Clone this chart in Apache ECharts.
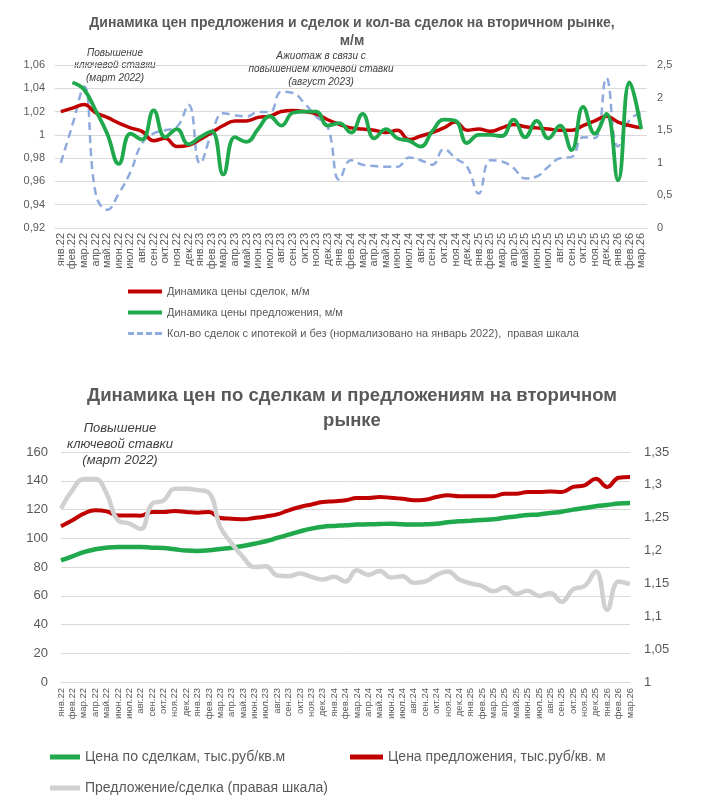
<!DOCTYPE html>
<html>
<head>
<meta charset="utf-8">
<script src="https://cdn.jsdelivr.net/npm/echarts@6/dist/echarts.min.js"></script>
<style>
html,body{margin:0;padding:0;background:#fff;}
#chart{width:704px;height:800px;}
</style>
</head>
<body>
<div id="chart"></div>
<script>
// ---- categories (months) ----
const months = [
  'янв.22','фев.22','мар.22','апр.22','май.22','июн.22','июл.22','авг.22','сен.22','окт.22','ноя.22','дек.22',
  'янв.23','фев.23','мар.23','апр.23','май.23','июн.23','июл.23','авг.23','сен.23','окт.23','ноя.23','дек.23',
  'янв.24','фев.24','мар.24','апр.24','май.24','июн.24','июл.24','авг.24','сен.24','окт.24','ноя.24','дек.24',
  'янв.25','фев.25','мар.25','апр.25','май.25','июн.25','июл.25','авг.25','сен.25','окт.25','ноя.25','дек.25',
  'янв.26','фев.26','мар.26'
];

// ---- top chart: m/m dynamics ----
const dealPriceMoM = [
  1.020,1.023,1.026,1.019,1.015,1.010,1.006,1.003,0.995,0.997,0.990,0.991,
  0.996,1.002,1.008,1.012,1.012,1.015,1.016,1.020,1.021,1.020,1.018,1.013,
  1.009,1.006,1.005,1.004,1.002,1.004,0.996,0.999,1.002,1.006,1.011,1.004,
  1.005,1.003,1.006,1.009,1.007,1.006,1.005,1.004,1.004,1.008,1.012,1.016,
  1.011,1.008,1.006
];
const offerPriceMoM = [
  null,1.045,1.039,1.021,1.001,0.975,1.001,0.996,1.021,0.998,1.005,0.992,
  0.998,1.003,0.966,0.998,0.994,1.005,1.016,1.008,1.019,1.020,1.020,1.008,
  1.010,1.002,1.018,0.997,1.005,0.997,0.995,0.990,1.003,1.013,1.012,0.993,
  1.000,1.000,0.999,1.013,0.998,1.012,0.997,1.008,0.987,1.024,1.001,1.018,
  0.961,1.045,1.005
];
const dealsCountNorm = [
  1.00,1.58,2.17,0.53,0.28,0.53,0.86,1.30,1.45,1.50,1.55,1.89,
  0.99,1.45,1.76,1.73,1.71,1.78,1.78,2.09,2.07,1.91,1.71,1.55,
  0.74,1.04,0.97,0.95,0.94,0.94,1.08,1.04,0.97,1.21,1.07,0.94,
  0.53,1.04,1.02,0.92,0.76,0.79,0.94,1.07,1.09,1.39,1.38,2.30,
  1.25,1.66,1.76
];
const topLeftTicks = {min:0.92, max:1.06, interval:0.02};
const topRightTicks = {min:0, max:2.5, interval:0.5};

// ---- bottom chart: price levels ----
const dealPrice = [
  84.6,87.4,90.4,92.3,93.4,93.9,93.9,93.9,93.4,93.2,92.3,91.4,
  91.1,91.6,92.5,93.4,94.6,96.2,97.9,100.2,102.5,104.8,106.7,108.0,
  108.6,109.0,109.5,109.7,109.9,110.1,109.7,109.5,109.7,110.1,111.1,111.8,
  112.2,112.7,113.2,114.3,115.2,116.2,116.6,117.6,118.5,119.9,121.0,122.2,
  123.1,124.1,124.5
];
const offerPrice = [
  108.3,112.5,117.1,119.4,118.7,115.9,115.9,115.7,118.3,118.3,119.0,118.3,
  117.8,118.3,114.1,113.6,113.2,114.1,115.2,116.6,119.4,121.7,123.5,125.2,
  125.7,126.4,128.0,128.0,128.7,128.2,127.5,126.4,126.8,128.7,129.9,129.2,
  129.2,129.2,129.2,131.0,131.0,132.2,132.2,132.6,132.2,135.7,136.8,141.4,
  135.7,142.1,142.6
];
const offerDealRatio = [
  1.264,1.292,1.309,1.309,1.287,1.246,1.241,1.233,1.271,1.276,1.294,1.294,
  1.292,1.288,1.236,1.211,1.190,1.175,1.176,1.162,1.161,1.165,1.160,1.156,
  1.160,1.153,1.170,1.163,1.169,1.159,1.161,1.151,1.153,1.163,1.168,1.156,
  1.150,1.146,1.138,1.144,1.134,1.139,1.131,1.135,1.122,1.141,1.146,1.168,
  1.110,1.153,1.149
];
const botLeftTicks = {min:0, max:160, interval:20};
const botRightTicks = {min:1, max:1.35, interval:0.05};

// ---- names ----
const nTop = ['Динамика цены сделок, м/м','Динамика цены предложения, м/м','Кол-во сделок с ипотекой и без (нормализовано на январь 2022),  правая шкала'];
const nBot = ['Цена по сделкам, тыс.руб/кв.м','Цена предложения, тыс.руб/кв. м','Предложение/сделка (правая шкала)'];

const RED = '#C00000', GREEN = '#1FA84C', BLUE = '#8FAADC', GRAY = '#D0D0D0';
const FONT = 'Liberation Sans';
const TXT = '#595959';
const fmt = v => String(Math.round(v*100)/100).replace('.', ',');
const DASH_ICON = 'path://M0,0h6v3h-6z M9,0h6v3h-6z M18,0h6v3h-6z M27,0h7v3h-7z';

const chart = echarts.init(document.getElementById('chart'), null, {renderer:'canvas'});

function xAx(grid, boundaryGap, fs, margin){
  return {
    type:'category', gridIndex:grid, data:months, boundaryGap:boundaryGap,
    axisLine:{show:true, lineStyle:{color:'#D9D9D9', width:1}},
    axisTick:{show:false},
    axisLabel:{rotate:90, interval:0, fontSize:fs, color:TXT, margin:margin, fontFamily:FONT}
  };
}
function yAx(grid, ticks, pos, fs, margin, split){
  return Object.assign({
    type:'value', gridIndex:grid, position:pos,
    axisLine:{show:false}, axisTick:{show:false},
    axisLabel:{fontSize:fs, color:TXT, margin:margin, fontFamily:FONT, formatter:fmt},
    splitLine:{show:split, lineStyle:{color:'#D9D9D9', width:1}}
  }, ticks);
}

const option = {
  animation:false,
  backgroundColor:'#fff',
  textStyle:{fontFamily:FONT},
  title:[
    {text:'Динамика цен предложения и сделок и кол-ва сделок на вторичном рынке,\nм/м',
     left:'center', top:9,
     textStyle:{fontSize:14, fontWeight:'bold', color:TXT, lineHeight:18, fontFamily:FONT}},
    {text:'Динамика цен по сделкам и предложениям на вторичном\nрынке',
     left:'center', top:378,
     textStyle:{fontSize:18.5, fontWeight:'bold', color:TXT, lineHeight:25, fontFamily:FONT}}
  ],
  grid:[
    {left:55, right:57, top:65, height:163},
    {left:61, right:74, top:452, height:230}
  ],
  xAxis:[ xAx(0, true, 11, 5), xAx(1, false, 9.5, 6) ],
  yAxis:[
    yAx(0, topLeftTicks, 'left', 11, 10, true),
    yAx(0, topRightTicks, 'right', 11, 10, false),
    yAx(1, botLeftTicks, 'left', 13, 13, true),
    yAx(1, botRightTicks, 'right', 13, 14, false)
  ],
  legend:[
    {orient:'vertical', left:128, top:286, padding:0, itemWidth:34, itemHeight:4, itemGap:10,
     data:[{name:nTop[0], icon:'rect'}, {name:nTop[1], icon:'rect'}, {name:nTop[2], icon:DASH_ICON}],
     textStyle:{fontSize:11, color:TXT, fontFamily:FONT}},
    {left:50, top:750, padding:0, itemWidth:30, itemHeight:5, data:[{name:nBot[0], icon:'rect'}],
     textStyle:{fontSize:14, color:TXT, fontFamily:FONT}},
    {left:350, top:750, padding:0, itemWidth:33, itemHeight:5, data:[{name:nBot[1], icon:'rect'}],
     textStyle:{fontSize:14, color:TXT, fontFamily:FONT}},
    {left:50, top:781, padding:0, itemWidth:30, itemHeight:5, data:[{name:nBot[2], icon:'rect'}],
     textStyle:{fontSize:14, color:TXT, fontFamily:FONT}}
  ],
  graphic:[
    {type:'text', x:115, y:65.5, style:{text:'Повышение\nключевой ставки\n(март 2022)', font:'italic 10px "Liberation Sans"', fill:'#404040', align:'center', verticalAlign:'middle', lineHeight:12.5}},
    {type:'text', x:321, y:69, style:{text:'Ажиотаж в связи с\nповышением ключевой ставки\n(август 2023)', font:'italic 10px "Liberation Sans"', fill:'#404040', align:'center', verticalAlign:'middle', lineHeight:12.8}},
    {type:'text', x:120, y:444, style:{text:'Повышение\nключевой ставки\n(март 2022)', font:'italic 13px "Liberation Sans"', fill:'#404040', align:'center', verticalAlign:'middle', lineHeight:16}}
  ],
  series:[
    {name:nTop[2], type:'line', xAxisIndex:0, yAxisIndex:1, data:dealsCountNorm, smooth:0.45, symbol:'none',
     lineStyle:{color:BLUE, width:2.5, type:[8,5]}, itemStyle:{color:BLUE}},
    {name:nTop[0], type:'line', xAxisIndex:0, yAxisIndex:0, data:dealPriceMoM, smooth:0.45, symbol:'none',
     lineStyle:{color:RED, width:3.5}, itemStyle:{color:RED}},
    {name:nTop[1], type:'line', xAxisIndex:0, yAxisIndex:0, data:offerPriceMoM, smooth:0.45, symbol:'none',
     lineStyle:{color:GREEN, width:3.8}, itemStyle:{color:GREEN}},
    {name:nBot[0], type:'line', xAxisIndex:1, yAxisIndex:2, data:dealPrice, smooth:0.45, symbol:'none',
     lineStyle:{color:GREEN, width:4.5}, itemStyle:{color:GREEN}},
    {name:nBot[1], type:'line', xAxisIndex:1, yAxisIndex:2, data:offerPrice, smooth:0.45, symbol:'none',
     lineStyle:{color:RED, width:4}, itemStyle:{color:RED}},
    {name:nBot[2], type:'line', xAxisIndex:1, yAxisIndex:3, data:offerDealRatio, smooth:0.45, symbol:'none',
     lineStyle:{color:GRAY, width:4.5}, itemStyle:{color:GRAY}}
  ]
};
chart.setOption(option);
</script>
</body>
</html>
